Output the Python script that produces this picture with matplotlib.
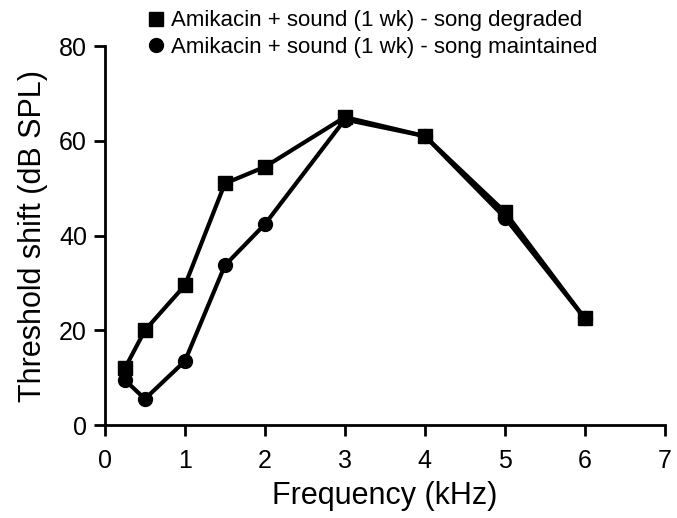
import numpy as np
import matplotlib.pyplot as plt

plt.rcParams['font.family'] = ['Liberation Sans', 'DejaVu Sans']

# datos
freq = [0.25, 0.5, 1, 1.5, 2, 3, 4, 5, 6]
degraded = [12, 20, 29.5, 51, 54.5, 65, 61, 45, 22.5]
maintained = [9.5, 5.5, 13.5, 33.7, 42.4, 64.5, 61, 43.8, 22.5]
xticks = [0, 1, 2, 3, 4, 5, 6, 7]
yticks = [0, 20, 40, 60, 80]

fig = plt.figure(figsize=(6.77, 5.18), dpi=100)
ax = fig.add_axes([0.155, 0.1795, 0.827, 0.7315])

ax.plot(freq, maintained, color='black', lw=3, marker='o', ms=10,
        label='Amikacin + sound (1 wk) - song maintained', zorder=2)
ax.plot(freq, degraded, color='black', lw=3, marker='s', ms=10,
        label='Amikacin + sound (1 wk) - song degraded', zorder=3)

ax.set_xlim(0, 7)
ax.set_ylim(0, 80)
ax.set_xticks(xticks)
ax.set_yticks(yticks)
ax.spines['top'].set_visible(False)
ax.spines['right'].set_visible(False)
ax.spines['left'].set_linewidth(2)
ax.spines['bottom'].set_linewidth(2)
ax.tick_params(width=2, length=8, labelsize=18, direction='out')
ax.tick_params(axis='x', pad=9)
ax.tick_params(axis='y', pad=5)
ax.set_xlabel('Frequency (kHz)', fontsize=22, labelpad=6)
ax.set_ylabel('Threshold shift (dB SPL)', fontsize=22, labelpad=8)

h, l = ax.get_legend_handles_labels()
hs = [plt.Line2D([], [], ls='none', marker='s', color='black', ms=10),
      plt.Line2D([], [], ls='none', marker='o', color='black', ms=10)]
fig.legend(hs, [l[1], l[0]], loc='upper left', bbox_to_anchor=(0.197, 1.01),
           frameon=False, fontsize=16, handlelength=0.6, handletextpad=0.4,
           labelspacing=0.25, borderpad=0.2)

fig.savefig('out.png', dpi=100)
